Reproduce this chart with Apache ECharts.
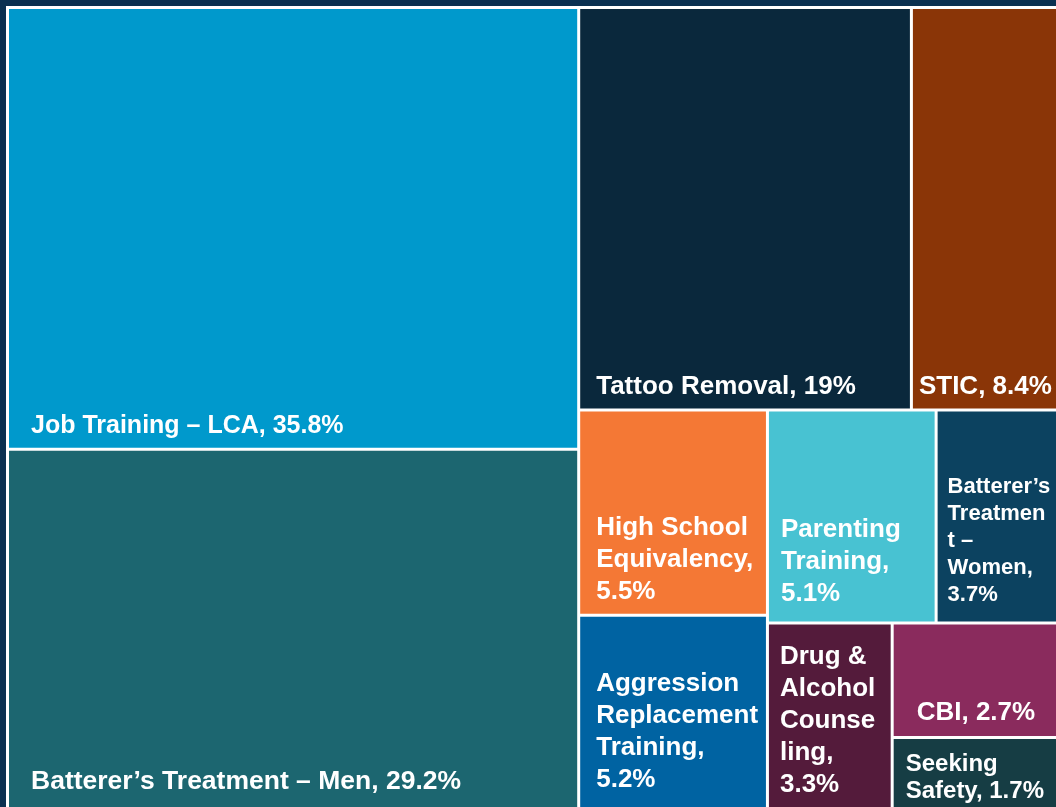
<!DOCTYPE html>
<html>
<head>
<meta charset="utf-8">
<script src="https://cdn.jsdelivr.net/npm/echarts@6/dist/echarts.min.js"></script>
<style>
html, body { margin: 0; padding: 0; background: #0a3050; }
#chart { width: 1056px; height: 807px; }
</style>
</head>
<body>
<div id="chart"></div>
<script>
// ---- data ----
const names = ['Job Training – LCA', 'Batterer’s Treatment – Men', 'Tattoo Removal', 'STIC',
  'High School Equivalency', 'Parenting Training', 'Batterer’s Treatment – Women',
  'Aggression Replacement Training', 'Drug & Alcohol Counseling', 'CBI', 'Seeking Safety'];
const values = [35.8, 29.2, 19, 8.4, 5.5, 5.1, 3.7, 5.2, 3.3, 2.7, 1.7];
// label wrapping as in the reference
const wrappedNames = ['Job Training – LCA', 'Batterer’s Treatment – Men', 'Tattoo Removal', 'STIC',
  'High School\nEquivalency', 'Parenting\nTraining', 'Batterer’s\nTreatmen\nt –\nWomen',
  'Aggression\nReplacement\nTraining', 'Drug &\nAlcohol\nCounse\nling', 'CBI', 'Seeking\nSafety'];
const valueOnOwnLine = [false, false, false, false, true, true, true, true, true, false, false];
// hierarchy (indices into the arrays above)
const groupLeft = [0, 1];
const groupRightTop = [2, 3];
const groupRightBottom = [4, 5, 6, 7, 8, 9, 10];

// ---- styles ----
const colors = ['#0099cc', '#1c6670', '#0a283c', '#8a3507', '#f47835', '#48c2d2',
  '#0c4260', '#0063a2', '#541b3b', '#8a2b5d', '#163d44'];
const labelPad = [[0,0,6,22],[0,0,10,22],[0,0,6,16],[0,0,6,6],[0,0,6,16],[0,0,12,12],
  [0,0,13,10],[0,0,12,16],[0,0,7,11],[0,0,7,23],[0,0,3,12]];
const labelFontSize = [25, 26.5, 26, 26, 26, 26, 22, 26, 26, 26, 24];
const labelLineHeight = [32, 32, 32, 32, 32, 32, 27, 32, 32, 32, 27];

function leaf(i) {
  const txt = wrappedNames[i] + (valueOnOwnLine[i] ? ',\n' : ', ') + values[i] + '%';
  return {
    name: names[i],
    value: values[i],
    itemStyle: { color: colors[i] },
    label: {
      padding: labelPad[i],
      fontSize: labelFontSize[i],
      lineHeight: labelLineHeight[i],
      formatter: function () { return txt; }
    }
  };
}
function group(name, children) {
  const sum = children.reduce((s, c) => s + c.value, 0);
  return { name: name, value: sum, children: children };
}

const left = group('left', groupLeft.map(leaf));
const rightTop = group('rightTop', groupRightTop.map(leaf));
const rightBottom = group('rightBottom', groupRightBottom.map(leaf));
const right = group('right', [rightTop, rightBottom]);

const chart = echarts.init(document.getElementById('chart'));
chart.setOption({
  backgroundColor: '#0a3050',
  animation: false,
  tooltip: { show: false },
  series: [{
    type: 'treemap',
    left: 6, top: 6, width: 1054, height: 805,
    roam: false,
    nodeClick: false,
    breadcrumb: { show: false },
    squareRatio: 1,
    sort: 'desc',
    visibleMin: 0,
    itemStyle: { borderColor: '#ffffff', borderWidth: 0, gapWidth: 3 },
    levels: [
      { itemStyle: { borderColor: '#ffffff', borderWidth: 3, gapWidth: 3 } }
    ],
    upperLabel: { show: false },
    label: {
      show: true,
      position: 'insideBottomLeft',
      distance: 0,
      color: '#ffffff',
      fontFamily: "'Liberation Sans', Arial, sans-serif",
      fontWeight: 'bold',
      fontSize: 26,
      lineHeight: 32,
      overflow: 'none'
    },
    emphasis: { disabled: true },
    data: [left, right]
  }]
});
</script>
</body>
</html>
